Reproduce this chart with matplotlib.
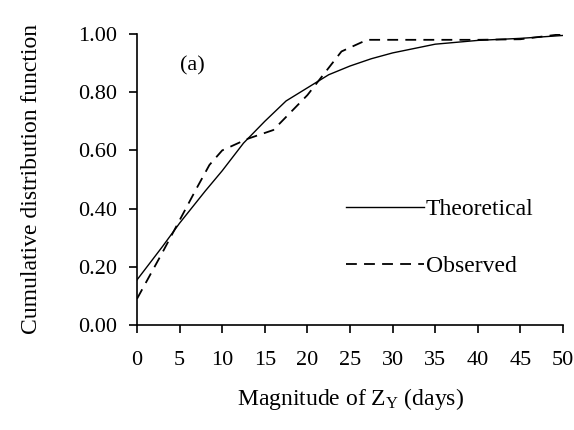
import matplotlib
matplotlib.use("Agg")
import matplotlib.pyplot as plt

# Theoretical CDF
theo_x = [0, 3, 5, 8, 10, 12.5, 15, 17.5, 20, 22.5, 25, 27.5, 30, 35, 40, 45, 50]
theo_y = [0.155, 0.27, 0.35, 0.46, 0.53, 0.625, 0.70, 0.77, 0.815, 0.86, 0.89, 0.915,
          0.935, 0.965, 0.978, 0.985, 0.995]

# Observed CDF
obs_x = [0, 3, 5, 7, 8.5, 10, 13, 16, 20, 24, 27, 30, 35, 40, 45, 50]
obs_y = [0.09, 0.25, 0.36, 0.47, 0.55, 0.60, 0.64, 0.67, 0.79, 0.94, 0.98, 0.98, 0.98,
         0.98, 0.982, 1.00]

x_ticks = list(range(0, 55, 5))
y_ticks = [0.0, 0.2, 0.4, 0.6, 0.8, 1.0]

plt.rcParams['font.family'] = ['Liberation Serif', 'DejaVu Serif']
plt.rcParams['mathtext.fontset'] = 'custom'
plt.rcParams['mathtext.rm'] = 'Liberation Serif'
plt.rcParams['mathtext.it'] = 'Liberation Serif:italic'

fig = plt.figure(figsize=(5.74, 4.30), dpi=100)
ax = fig.add_axes([137 / 574, 105 / 430, 426 / 574, 291 / 430])

ax.plot(theo_x, theo_y, color='black', lw=1.0, label='Theoretical')
ax.plot(obs_x, obs_y, color='black', lw=1.3, dashes=(6, 4), label='Observed')

ax.set_xlim(0, 50)
ax.set_ylim(0, 1.0)
ax.set_xticks(x_ticks)
ax.set_yticks(y_ticks)
ax.set_yticklabels(['%.2f' % v for v in y_ticks])

# spines like the original: only left and bottom
for side in ['top', 'right']:
    ax.spines[side].set_visible(False)
for side in ['left', 'bottom']:
    ax.spines[side].set_linewidth(1.2)
ax.tick_params(axis='both', direction='out', length=6, width=1.2, labelsize=16)
ax.tick_params(axis='x', pad=13)
ax.tick_params(axis='y', pad=8)

ax.set_xlabel('Magnitude of $\\mathrm{Z_Y}$ (days)', fontsize=17, labelpad=11)
ax.set_ylabel('Cumulative distribution function', fontsize=17, labelpad=26)

ax.text(6.5, 0.89, '(a)', fontsize=16, ha='center', va='center')

ax.legend(loc='center left', bbox_to_anchor=(0.44, 0.30), frameon=False,
          fontsize=17, handlelength=3.3, handletextpad=0.1, labelspacing=1.5)

fig.savefig('out.png', dpi=100)
